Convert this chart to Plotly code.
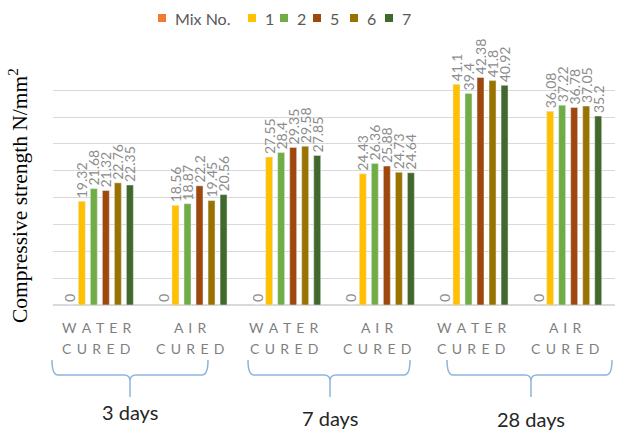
import plotly.graph_objects as go

# ---- data ----
categories = ["3d WATER CURED", "3d AIR CURED", "7d WATER CURED", "7d AIR CURED",
              "28d WATER CURED", "28d AIR CURED"]
cat_line1 = ["WATER", "AIR", "WATER", "AIR", "WATER", "AIR"]
cat_line2 = ["CURED", "CURED", "CURED", "CURED", "CURED", "CURED"]
groups = ["3 days", "7 days", "28 days"]

series_names = ["Mix No.", "1", "2", "5", "6", "7"]
mix_no = [0, 0, 0, 0, 0, 0]
mix_1 = [19.32, 18.56, 27.55, 24.43, 41.1, 36.08]
mix_2 = [21.68, 18.87, 28.4, 26.36, 39.4, 37.22]
mix_5 = [21.32, 22.2, 29.35, 25.88, 42.38, 36.78]
mix_6 = [22.76, 19.45, 29.58, 24.73, 41.8, 37.05]
mix_7 = [22.35, 20.56, 27.85, 24.64, 40.92, 35.2]
series_values = [mix_no, mix_1, mix_2, mix_5, mix_6, mix_7]
colors = ["#ED7D31", "#FFC000", "#70AD47", "#9E480E", "#997300", "#43682B"]

# ---- layout geometry (pixels) ----
WIDTH, HEIGHT = 621, 430
L, R, T, B = 53, 615, 63, 305
W, H = R - L, B - T


def px(x):
    return (x - L) / W


def py(y):
    return (B - y) / H


def spaced(s):
    return " \u2009".join(s)


fig = go.Figure()
for name, vals, col in zip(series_names, series_values, colors):
    fig.add_trace(go.Bar(
        x=categories, y=vals, name=name, marker_color=col,
        text=[str(v) for v in vals], textposition="outside", textangle=-90,
        textfont=dict(size=14, color="#8C8C8C", family="Lato"),
        constraintext="none", cliponaxis=False, showlegend=False,
    ))

annotations = []
shapes = []

# legend (compact, Excel-like): square swatch + series name
legend_text_x = [173, 263, 295, 328, 365, 400]
legend_y = 18
for name, col, tx in zip(series_names, colors, legend_text_x):
    shapes.append(dict(type="rect", xref="paper", yref="paper",
                       x0=px(tx - 15), x1=px(tx - 7), y0=py(legend_y + 4), y1=py(legend_y - 4),
                       fillcolor=col, line=dict(width=0)))
    annotations.append(dict(x=px(tx), xref="paper", y=py(legend_y), yref="paper", text=name,
                            showarrow=False, font=dict(size=16, color="#595959", family="Lato"),
                            xanchor="left", yanchor="middle"))

# category labels (two lines)
for c, l1, l2 in zip(categories, cat_line1, cat_line2):
    annotations.append(dict(x=c, xref="x", y=py(327), yref="paper", text=spaced(l1),
                            showarrow=False, font=dict(size=14, color="#7F7F7F", family="Lato"),
                            xanchor="center", yanchor="middle", xshift=-3))
    annotations.append(dict(x=c, xref="x", y=py(348), yref="paper", text=spaced(l2),
                            showarrow=False, font=dict(size=14, color="#7F7F7F", family="Lato"),
                            xanchor="center", yanchor="middle", xshift=-3))

# brackets and group labels
brackets = [(52, 208, 130, 412), (248, 410, 330, 418), (447, 612, 531, 419)]
ytop, ymid, ytip, r = 360, 375, 397, 6
for (x0, x1, xc, ylab), g in zip(brackets, groups):
    pts = [
        f"M {px(x0)},{py(ytop)}",
        f"Q {px(x0)},{py(ymid)} {px(x0 + r)},{py(ymid)}",
        f"L {px(xc - r)},{py(ymid)}",
        f"Q {px(xc)},{py(ymid)} {px(xc)},{py(ymid + r)}",
        f"L {px(xc)},{py(ytip)}",
        f"M {px(xc)},{py(ymid + r)}",
        f"Q {px(xc)},{py(ymid)} {px(xc + r)},{py(ymid)}",
        f"L {px(x1 - r)},{py(ymid)}",
        f"Q {px(x1)},{py(ymid)} {px(x1)},{py(ytop)}",
    ]
    shapes.append(dict(type="path", xref="paper", yref="paper", path=" ".join(pts),
                       line=dict(color="#8FB4DE", width=1.5)))
    annotations.append(dict(x=px(xc), xref="paper", y=py(ylab), yref="paper", text=g,
                            showarrow=False, font=dict(size=20, color="#262626", family="Lato"),
                            xanchor="center", yanchor="middle"))

# y-axis title
annotations.append(dict(x=px(18), xref="paper", y=py(196), yref="paper",
                        text="Compressive strength N/mm<sup>2</sup>", textangle=-90,
                        showarrow=False, font=dict(size=21.5, color="#000000", family="Liberation Serif"),
                        xanchor="center", yanchor="middle"))

fig.update_layout(
    width=WIDTH, height=HEIGHT,
    margin=dict(l=L, r=WIDTH - R, t=T, b=HEIGHT - B, pad=0, autoexpand=False),
    paper_bgcolor="white", plot_bgcolor="white",
    barmode="group", bargap=0.23, bargroupgap=0.42,
    showlegend=False,
    xaxis=dict(showticklabels=False, showgrid=False, showline=True, linecolor="#D9D9D9",
               linewidth=1, ticks=""),
    yaxis=dict(range=[0, 45.08], tickvals=[0, 5, 10, 15, 20, 25, 30, 35, 40, 45],
               showticklabels=False, showgrid=True, gridcolor="#D9D9D9",
               gridwidth=1, zeroline=True, zerolinecolor="#D9D9D9", showline=False, ticks=""),
    shapes=shapes, annotations=annotations,
    font=dict(family="Lato"),
)

fig.write_html("out.html", config={"displayModeBar": False},
               post_script="document.body.style.margin='0px';")
